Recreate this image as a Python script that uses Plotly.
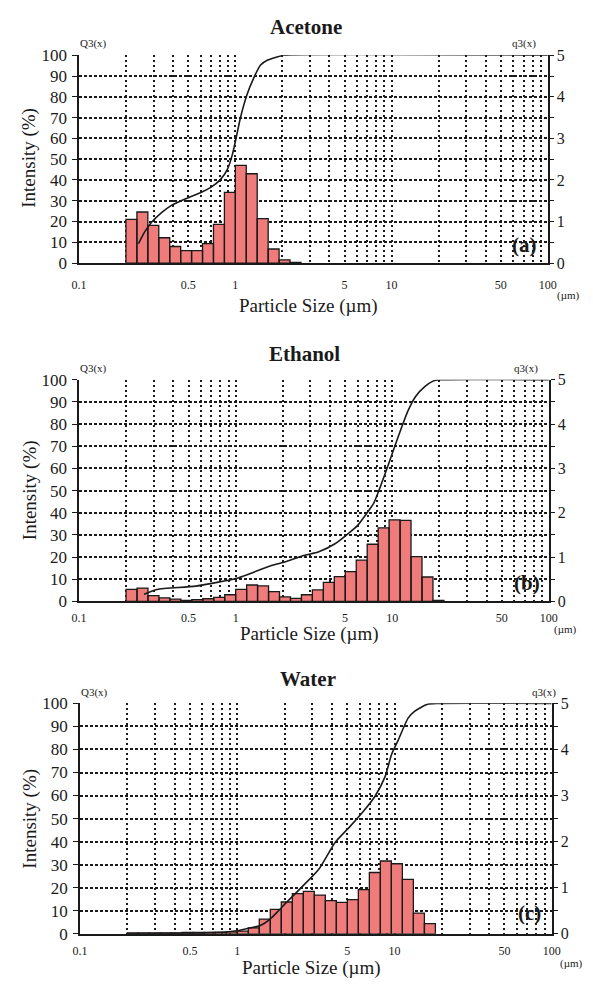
import plotly.graph_objects as go

# page is 593x992; the browser keeps its default 8px body margin,
# so the figure itself is 16px smaller in each direction
PAGE_W, PAGE_H = 593, 992
OFF = 8
W, H = PAGE_W - 2 * OFF, PAGE_H - 2 * OFF

# ---------------- data ----------------
# size classes (bin edges, µm) of the analyser, shared by the three samples
bin_edges = [0.1995, 0.2344, 0.2754, 0.3236, 0.3802, 0.4467, 0.5248, 0.6166, 0.7244, 0.8511,
             1.000, 1.175, 1.380, 1.622, 1.905, 2.239, 2.630, 3.090, 3.631, 4.266,
             5.012, 5.888, 6.918, 8.128, 9.550, 11.22, 13.18, 15.49, 18.20, 21.38]

# q3(x) density per class (right axis, 0-5)
acetone_q3 = [1.05, 1.23, 0.91, 0.61, 0.40, 0.30, 0.30, 0.47, 0.93, 1.70,
              2.35, 2.15, 1.07, 0.34, 0.08, 0.02]
ethanol_q3 = [0.27, 0.30, 0.13, 0.08, 0.05, 0.02, 0.04, 0.06, 0.09, 0.15,
              0.27, 0.37, 0.35, 0.22, 0.10, 0.07, 0.15, 0.26, 0.43, 0.56,
              0.67, 0.93, 1.29, 1.66, 1.84, 1.83, 1.01, 0.55, 0.02]
water_q3 = [0.02, 0.02, 0.02, 0.02, 0.02, 0.03, 0.03, 0.03, 0.03, 0.04,
            0.06, 0.13, 0.32, 0.53, 0.69, 0.87, 0.92, 0.84, 0.72, 0.68,
            0.74, 0.96, 1.33, 1.58, 1.52, 1.18, 0.45, 0.22]

# Q3(x) cumulative curve (left axis, %)
acetone_cum_x = [0.240, 0.263, 0.290, 0.340, 0.390, 0.450, 0.520, 0.602, 0.697, 0.807,
                 0.889, 0.957, 1.005, 1.08, 1.19, 1.31, 1.45, 1.60, 1.85, 2.04, 100]
acetone_cum_y = [9.4, 15.0, 19.5, 24.5, 27.8, 30.0, 32.0, 34.0, 36.4, 40.4,
                 45.1, 52.2, 59.2, 70.2, 81.2, 89.0, 95.3, 97.6, 99.2, 100, 100]
ethanol_cum_x = [0.26, 0.315, 0.557, 1.035, 1.66, 2.11, 2.68, 3.40, 4.31, 5.21,
                 6.0, 6.93, 7.64, 8.40, 9.5, 11.0, 12.6, 14.1, 16.2, 18.2, 20.0, 100]
ethanol_cum_y = [3.2, 5.4, 6.9, 10.6, 16.0, 18.0, 20.6, 22.4, 26.0, 30.5,
                 34.2, 40.1, 44.5, 51.8, 62.2, 75.0, 86.0, 92.5, 97.0, 99.4, 100, 100]
water_cum_x = [0.2, 0.45, 0.62, 0.91, 1.0, 1.2, 1.4, 1.61, 1.8, 2.04, 2.59, 3.3,
               4.2, 5.2, 6.4, 7.5, 8.7, 9.6, 10.5, 12.2, 13.4, 16.2, 18.7, 100]
water_cum_y = [0, 0.2, 0.4, 1.0, 1.3, 2.5, 3.6, 6.3, 9.5, 13.4, 20.5, 28.0,
               39.7, 46.5, 53.5, 59.6, 68.1, 78.0, 83.7, 93.6, 96.5, 99.6, 100, 100]

panel_titles = ["Acetone", "Ethanol", "Water"]
panel_tags = ["(a)", "(b)", "(c)"]

x_grid_vals = [0.1, 0.2, 0.3, 0.4, 0.5, 0.6, 0.7, 0.8, 0.9,
               1, 2, 3, 4, 5, 6, 7, 8, 9,
               10, 20, 30, 40, 50, 60, 70, 80, 90, 100]
x_label_map = {0.1: "0.1", 0.5: "0.5", 1: "1", 5: "5", 10: "10", 50: "50", 100: "100"}
left_tick_vals = [0, 10, 20, 30, 40, 50, 60, 70, 80, 90, 100]
right_tick_vals = [0, 0.5, 1, 1.5, 2, 2.5, 3, 3.5, 4, 4.5, 5]
right_tick_text = ["0", "", "1", "", "2", "", "3", "", "4", "", "5"]

# ---------------- layout geometry (page pixels) ----------------
boxes = [  # x0, x1, y_top, y_bottom
    (73, 556, 47, 259),
    (73, 557, 378, 604),
    (74, 560, 708, 943),
]
title_pos = [(307, 18), (305, 352), (309, 683)]
q_pos_y = [35, 366, 697]
q_right_x = [531, 533, 552]
um_pos = [(577, 292), (574, 633), (580, 973)]
tag_pos = [(532, 241), (534, 585), (537, 922)]
xlabel_y = [303, 637, 978]
ylabel_y = [152, 491, 826]
x_standoff = [10, 4, 5]

SERIF = "Liberation Serif, Times New Roman, serif"
INK = "#1a1a1a"
BAR = "#EF7B7B"


def px(x):
    return (x - OFF) / W


def py(y):
    return 1 - (y - OFF) / H


def hist_polygon(edges, heights):
    xs, ys = [], []
    for i, h in enumerate(heights):
        xs += [edges[i], edges[i], edges[i + 1], edges[i + 1], edges[i], None]
        ys += [0, h, h, 0, 0, None]
    return xs, ys


def label(text, x, y, size, **kw):
    return dict(text=text, x=px(x), y=py(y), xref="paper", yref="paper",
                xanchor="center", yanchor="middle", showarrow=False,
                font=dict(family=SERIF, size=size, color=INK), **kw)


fig = go.Figure()

q3_sets = [acetone_q3, ethanol_q3, water_q3]
cum_sets = [(acetone_cum_x, acetone_cum_y), (ethanol_cum_x, ethanol_cum_y),
            (water_cum_x, water_cum_y)]

annotations = []
for i in range(3):
    xid = "x" if i == 0 else f"x{i + 1}"
    ybase = "y" if i == 0 else f"y{2 * i + 1}"
    yover = f"y{2 * i + 2}"
    bx, by = hist_polygon(bin_edges, q3_sets[i])
    fig.add_trace(go.Scatter(x=bx, y=by, mode="lines", fill="toself",
                             fillcolor=BAR, line=dict(color=INK, width=1.3),
                             xaxis=xid, yaxis=ybase, hoverinfo="skip",
                             showlegend=False))
    cx, cy = cum_sets[i]
    fig.add_trace(go.Scatter(x=cx, y=cy, mode="lines",
                             line=dict(color=INK, width=1.6, shape="spline",
                                       smoothing=0.6),
                             xaxis=xid, yaxis=yover, showlegend=False))

    x0, x1, yt, yb = boxes[i]
    xdom = [px(x0), px(x1)]
    ydom = [py(yb), py(yt)]
    xkey = "xaxis" if i == 0 else f"xaxis{i + 1}"
    ybkey = "yaxis" if i == 0 else f"yaxis{2 * i + 1}"
    yokey = f"yaxis{2 * i + 2}"

    fig.update_layout(**{
        xkey: dict(
            domain=xdom, anchor=ybase, type="log", range=[-1, 2],
            tickmode="array", tickvals=x_grid_vals,
            ticktext=[x_label_map.get(v, "") for v in x_grid_vals],
            ticks="", ticklabelstandoff=x_standoff[i],
            tickfont=dict(family=SERIF, size=12, color=INK),
            showgrid=True, gridcolor=INK, gridwidth=1.5, griddash="2px,3px",
            showline=True, linecolor=INK, linewidth=1.6, zeroline=False,
            fixedrange=True,
        ),
        ybkey: dict(
            domain=ydom, anchor=xid, side="right", range=[0, 5],
            tickmode="array", tickvals=right_tick_vals, ticktext=right_tick_text,
            ticks="outside", ticklen=4, tickwidth=1.3, tickcolor=INK,
            tickfont=dict(family=SERIF, size=16, color=INK),
            showgrid=True, gridcolor=INK, gridwidth=1.5, griddash="3px,2px",
            showline=True, linecolor=INK, linewidth=1.6, zeroline=False,
            fixedrange=True,
        ),
        yokey: dict(
            overlaying=ybase, anchor=xid, side="left", range=[0, 100],
            tickmode="array", tickvals=left_tick_vals,
            ticks="outside", ticklen=5, tickwidth=1.3, tickcolor=INK,
            ticklabelstandoff=2,
            tickfont=dict(family=SERIF, size=17, color=INK),
            showgrid=False, showline=True, linecolor=INK, linewidth=1.6,
            zeroline=False, fixedrange=True,
        ),
    })

    tx, ty = title_pos[i]
    annotations.append(label(f"<b>{panel_titles[i]}</b>", tx, ty, 21))
    annotations.append(label("Q3(x)", x0 + 15, q_pos_y[i], 11))
    annotations.append(label("q3(x)", q_right_x[i], q_pos_y[i], 11))
    ux, uy = um_pos[i]
    annotations.append(label("(µm)", ux, uy, 11))
    gx, gy = tag_pos[i]
    annotations.append(label(f"<b>{panel_tags[i]}</b>", gx, gy, 21))
    annotations.append(label("Particle Size (µm)", (x0 + x1) / 2 - 5,
                             xlabel_y[i], 19))
    annotations.append(label("Intensity (%)", 22, ylabel_y[i], 19,
                             textangle=-90))

fig.update_layout(
    width=W, height=H, autosize=False,
    margin=dict(l=0, r=0, t=0, b=0),
    paper_bgcolor="white", plot_bgcolor="white",
    showlegend=False, annotations=annotations,
)

fig.write_html("out.html", config={"displayModeBar": False})
